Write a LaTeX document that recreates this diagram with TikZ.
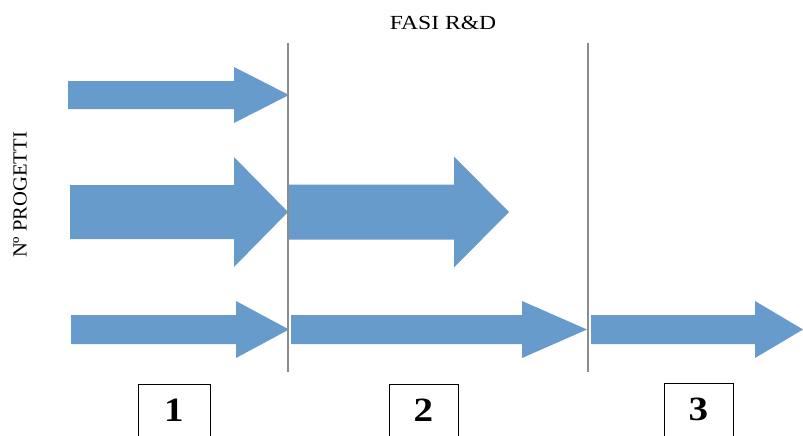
\documentclass[tikz,border=0pt]{standalone}
\usepackage{fontspec}
\setmainfont{Liberation Serif}
\definecolor{arrowblue}{RGB}{103,155,204}
\definecolor{linegray}{RGB}{140,140,140}
\newcommand{\blockarrow}[6]{%
  % #1 start x, #2 tip x, #3 head base x, #4 centre y, #5 shaft half, #6 head half
  \fill[arrowblue] (#1,#4-#5) -- (#3,#4-#5) -- (#3,#4-#6) -- (#2,#4) -- (#3,#4+#6) -- (#3,#4+#5) -- (#1,#4+#5) -- cycle;}
\begin{document}
\begin{tikzpicture}[x=1pt,y=-1pt,
  divider/.style={draw=linegray,line width=2pt},
  phasebox/.style={draw=black,line width=1pt,minimum width=72pt,inner xsep=0pt,inner ysep=0pt,
    text height=37pt,text depth=40pt,anchor=north,font=\fontsize{34}{34}\selectfont\bfseries},
  titletext/.style={font=\fontsize{20}{20}\selectfont}]
\useasboundingbox (0,0) rectangle (803,436);
\clip (0,0) rectangle (803,436);
% arrows
\blockarrow{68}{289}{234}{95}{14}{28}
\blockarrow{70}{288}{234}{212}{27}{55}
\blockarrow{289}{509}{454}{212}{27.5}{55.5}
\blockarrow{71}{289}{236}{329.5}{14.5}{28.5}
\blockarrow{291}{587}{522}{329.5}{14.5}{28.5}
\blockarrow{591}{803}{755}{329.5}{14.5}{28.5}
% dividers
\coordinate (d1t) at (288,43);
\coordinate (d1b) at (288,372);
\coordinate (d2t) at (588,43);
\coordinate (d2b) at (588,372);
\draw[divider] (d1t) -- (d1b);
\draw[divider] (d2t) -- (d2b);
% texts
\node[titletext] (title) at (443,23) {\scalebox{1.18}[1]{FASI R\&D}};
\node[titletext,rotate=90] (ylabel) at (20,195) {\scalebox{1.03}[1]{Nº PROGETTI}};
% boxes
\node[phasebox] (b1) at (174,383.5) {\scalebox{1.15}[1]{1}};
\node[phasebox,minimum width=69pt] (b2) at (423.5,383.5) {\scalebox{1.15}[1]{2}};
\node[phasebox,minimum width=69pt] (b3) at (698.5,382.5) {\scalebox{1.15}[1]{3}};
\end{tikzpicture}
\end{document}
